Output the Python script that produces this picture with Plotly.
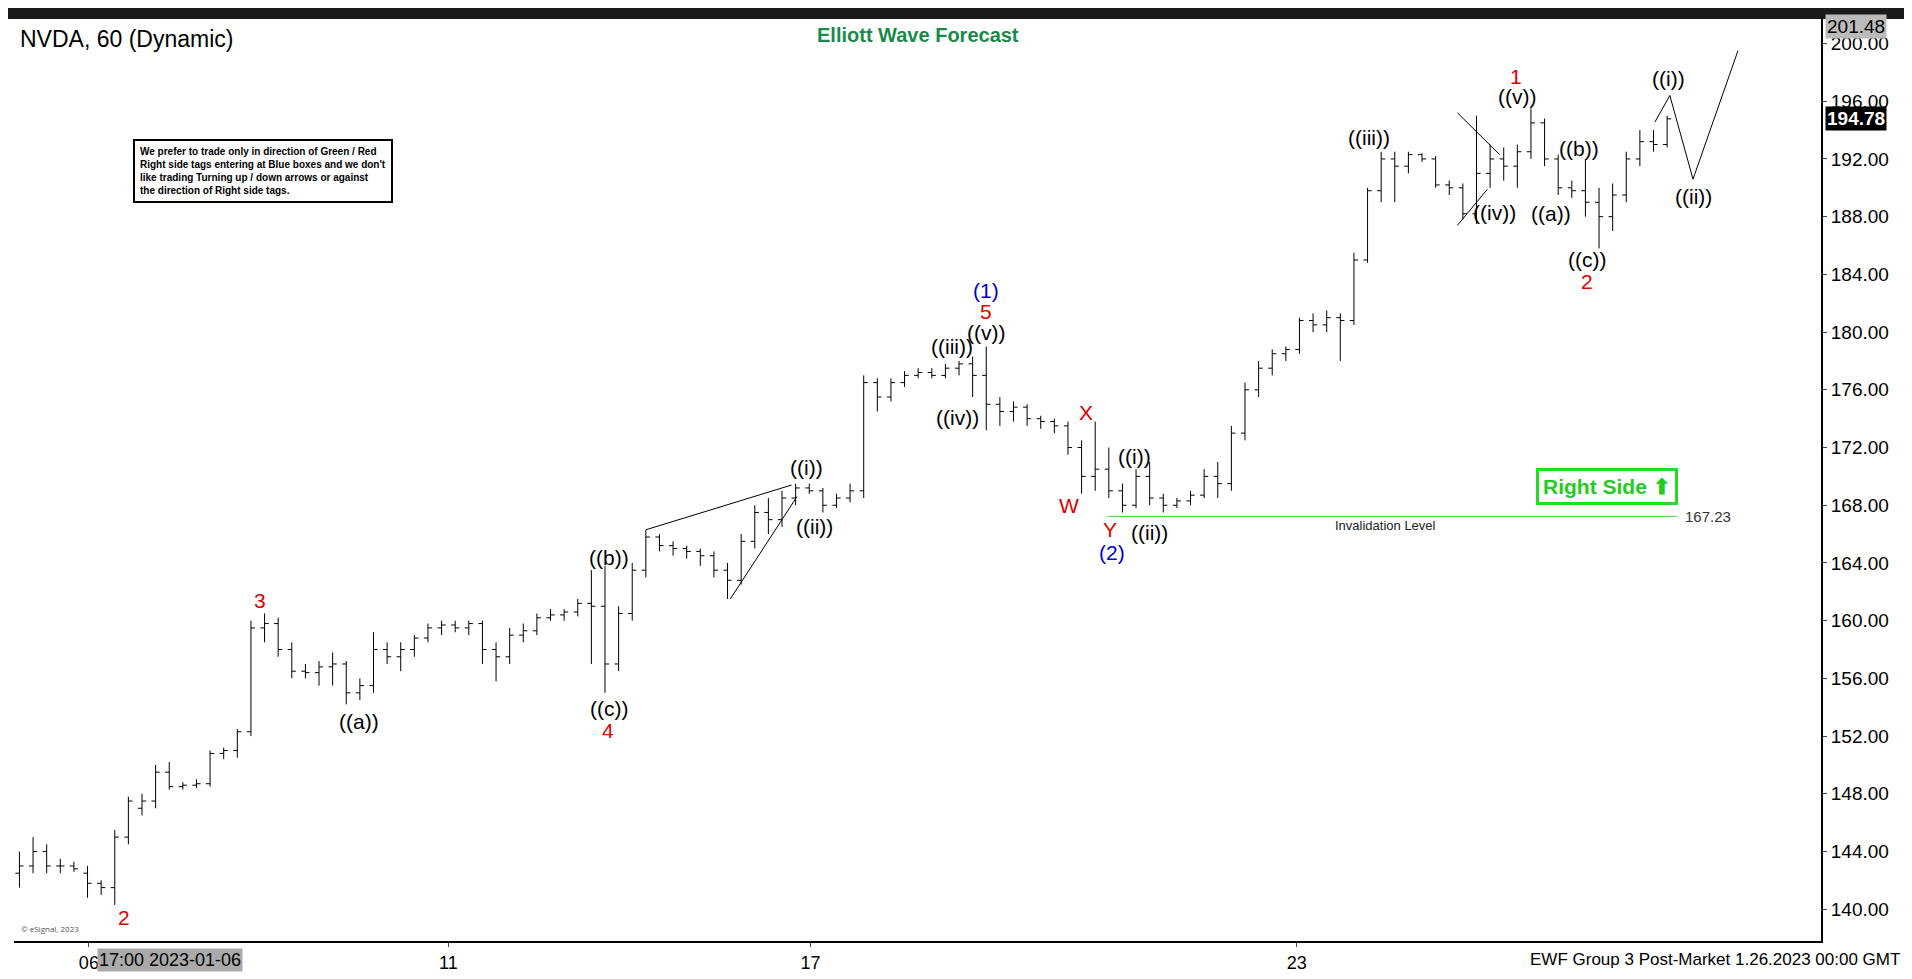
import plotly.graph_objects as go

opens = [142.5,143,144,143,143,142.5,141.8,141.5,145,147,147.5,149.5,148.5,148.6,148.7,150.8,151,152.3,159.5,159.8,
 158,156.5,156.4,156.8,157,155,155.5,158,157.5,158,158.8,159.5,159.7,159.5,159.8,158,157.5,159,159.3,160.2,
 160.4,160.6,161.2,161,157,160.5,163.5,165.8,165.2,165,164.8,164.5,163.5,162.8,165.5,167.5,167,168.5,169.2,169,
 168,168.5,169,176.5,175.5,176.5,177,177.2,177,177.5,177.8,177,175,174.5,174.8,174,173.8,173.5,172,170,
 170.5,169,168,170,168.5,168,168.3,168.7,170,169.5,173,176,177.5,178.5,178.8,180.8,180.5,181,180.8,185,
 189.8,192,191.5,192.3,192,190.2,190,188.2,191,192,191.5,192.5,194.5,192,190,189.8,189,188,189.5,192,193.2,193]
highs = [144,145,144.5,143.5,143.3,143,142,145.5,147.8,148,150,150.2,148.8,149,151,151.2,152.5,160,160.5,160.2,
 158.5,157,157.2,157.8,157.2,156,159.2,158.5,158.5,159,159.8,160,160,160,160,158.5,159.5,159.8,160.5,160.8,
 160.8,161.5,163.5,163.8,161,164,166.3,166,165.5,165.2,165,164.8,164,166,168,168.5,169,169.5,169.5,169.2,
 168.8,169.5,177,176.8,176.8,177.3,177.5,177.5,177.8,178,178.3,179,175.5,175.2,175,174.2,174,173.8,172.5,173.8,
 172,169.5,170.5,171,168.8,168.5,169,170.5,171,173.5,176.5,178,178.8,179,181,181.3,181.5,181.3,185.5,190,
 192.5,192.5,192.5,192.4,192.2,190.5,190.3,195,193,192.8,193,195.5,194.8,192.3,190.5,192,190,190.3,192.5,194,194,195]
lows = [141.5,142.5,142.5,142.5,142.6,140.8,141,140.3,144.5,146.5,147,148.3,148.3,148.4,148.5,150.4,150.5,152,158.5,157.5,
 156,156,155.5,155.5,154.2,154.5,155,157,156.5,157.5,158.5,159,159.2,159,157,155.8,157,158.5,159,160,
 160,160.3,157,155,156.5,160,163,164.8,164.5,164.3,163.8,163,161.5,162.5,165,166,166.5,168,168.8,167.5,
 167.8,168.2,168.5,174.5,175.2,176.2,176.8,176.8,176.8,177,175.5,173.2,173.5,173.8,173.5,173.3,173,171.5,168.8,169,
 168.5,167.5,167.8,168,167.5,167.8,168,168.5,168.5,169,172.5,175.5,177,178,178.5,180,180,178,180.5,184.8,
 189,189,191,191.8,190,189.5,187.8,187.5,190,190.5,190,192,191.5,189.5,189.3,188,185.8,187,189,191.5,192.5,192.8]
closes = [143,144,143,143,142.8,141.8,141.5,145,147.5,147.5,149.5,148.5,148.6,148.7,150.8,151,152.3,159.5,159.8,158,
 156.5,156.4,156.8,157,155,155.5,158,157.5,158,158.8,159.5,159.7,159.5,159.8,158,157.5,159,159.3,160.2,160.4,
 160.6,161.2,161,157,160.5,163.5,165.8,165.2,165,164.8,164.5,163.5,162.8,165.5,167.5,167,168.5,169.2,169,168,
 168.5,169,176.5,175.5,176.5,177,177.2,177,177.5,177.8,177,175,174.5,174.8,174,173.8,173.5,172,170,170.5,
 169,168,170,168.5,168,168.3,168.7,170,169.5,173,176,177.5,178.5,178.8,180.8,180.5,181,180.8,185,189.8,
 192,191.5,192.3,192,190.2,190,188.2,191,192,191.5,192.5,194.5,192,190,189.8,189,188,189.5,192,193.2,193,194.78]
bar_index = list(range(len(closes)))

tick_pos = [5.1, 31.5, 58.1, 93.8]
tick_text = ["06", "11", "17", "23"]
y_ticks = [140,144,148,152,156,160,164,168,172,176,180,184,188,192,196,200]

labels = [
 (7.7,139.4,"2","#e00000"),(17.7,161.4,"3","#e00000"),(24.9,153,"((a))","black"),
 (43.3,164.4,"((b))","black"),(43.3,153.9,"((c))","black"),(43.2,152.4,"4","#e00000"),
 (57.8,170.6,"((i))","black"),(58.4,166.5,"((ii))","black"),(68.5,179,"((iii))","black"),
 (68.9,174.1,"((iv))","black"),(71,180,"((v))","black"),(71,181.4,"5","#e00000"),
 (71,182.9,"(1)","#0000cc"),(78.3,174.4,"X","#e00000"),(77.1,168,"W","#e00000"),
 (80.1,166.3,"Y","#e00000"),(80.2,164.7,"(2)","#0000cc"),(81.9,171.4,"((i))","black"),
 (83,166.1,"((ii))","black"),(99.1,193.5,"((iii))","black"),(108.3,188.3,"((iv))","black"),
 (110,196.3,"((v))","black"),(109.9,197.7,"1","#e00000"),(112.5,188.2,"((a))","black"),
 (114.5,192.7,"((b))","black"),(115.1,185,"((c))","black"),(115.1,183.5,"2","#e00000"),
 (121.1,197.6,"((i))","black"),(122.9,189.4,"((ii))","black"),
]
invalidation = 167.23
proj_x = [120.1,121.2,122.9,126.2]
proj_y = [194.55,196.4,190.6,199.5]

F = "Liberation Sans"
fig = go.Figure()
fig.add_trace(go.Ohlc(x=bar_index, open=opens, high=highs, low=lows, close=closes,
    increasing_line_color="black", decreasing_line_color="black", line_width=1,
    tickwidth=0.3, showlegend=False, hoverinfo="skip"))
fig.add_trace(go.Scatter(x=proj_x, y=proj_y, mode="lines", line=dict(color="black", width=1), showlegend=False))
for xs, ys in [([46,56.7],[166.3,169.4]), ([52.2,57.1],[161.5,168.6]),
               ([105.6,108.7],[195.2,192.3]), ([105.6,107.8],[187.4,189.9])]:
    fig.add_trace(go.Scatter(x=xs, y=ys, mode="lines", line=dict(color="black", width=1), showlegend=False))
fig.add_trace(go.Scatter(x=[79.9,121.7], y=[invalidation]*2, mode="lines",
    line=dict(color="#33dd33", width=1), showlegend=False))

ann = []
for x, y, t, c in labels:
    ann.append(dict(x=x, y=y, text=t, showarrow=False, font=dict(size=21, color=c, family=F)))
ann += [
 dict(x=122.2, y=invalidation, text="167.23", xanchor="left", showarrow=False, font=dict(size=15, color="#333", family=F)),
 dict(x=100.3, y=166.6, text="Invalidation Level", showarrow=False, font=dict(size=13, color="#222", family=F)),
 dict(x=116.6, y=169.3, text="<b>Right Side ⬆</b>", showarrow=False, bgcolor="white",
      bordercolor="#22dd22", borderwidth=3, borderpad=4, font=dict(size=21, color="#22cc22", family=F)),
 dict(xref="paper", yref="paper", x=0.002, y=0.995, xanchor="left", yanchor="top", text="NVDA, 60 (Dynamic)",
      showarrow=False, font=dict(size=23, color="black", family=F)),
 dict(xref="paper", yref="paper", x=0.50, y=0.997, yanchor="top", text="<b>Elliott Wave Forecast</b>",
      showarrow=False, font=dict(size=20, color="#1a8a4a", family=F)),
 dict(xref="paper", yref="paper", x=0.066, y=0.87, xanchor="left", yanchor="top",
      text="<b>We prefer to trade only in direction of Green / Red<br>Right side tags entering at Blue boxes and we don't<br>like trading Turning up / down arrows or against<br>the direction of Right side tags.</b>",
      align="left", showarrow=False, bgcolor="white", bordercolor="black", borderwidth=2, borderpad=5,
      font=dict(size=10, color="black", family=F)),
 dict(xref="paper", x=1.002, y=201.2, xanchor="left", text="201.48", showarrow=False, bgcolor="#bbbbbb",
      font=dict(size=19, color="black", family=F)),
 dict(xref="paper", x=1.002, y=194.78, xanchor="left", text="<b>194.78</b>", showarrow=False, bgcolor="black",
      font=dict(size=19, color="white", family=F)),
 dict(xref="paper", yref="paper", x=1.045, y=-0.008, xanchor="right", yanchor="top",
      text="EWF Group 3 Post-Market 1.26.2023 00:00 GMT", showarrow=False,
      font=dict(size=17, color="black", family=F)),
 dict(xref="paper", yref="paper", x=0.046, y=-0.008, xanchor="left", yanchor="top",
      text="17:00 2023-01-06", showarrow=False, bgcolor="#aaaaaa",
      font=dict(size=18, color="black", family=F)),
 dict(xref="paper", yref="paper", x=0.003, y=0.005, xanchor="left", yanchor="bottom",
      text="© eSignal, 2023", showarrow=False, font=dict(size=8, color="#555")),
]

fig.update_layout(
    width=1912, height=979, paper_bgcolor="white", plot_bgcolor="white",
    margin=dict(l=6, r=99, t=11, b=46, autoexpand=False), annotations=ann,
    shapes=[dict(type="rect", xref="paper", yref="paper", x0=-0.01, x1=1.1, y0=1.0, y1=1.03,
                 fillcolor="#1a1a1a", line_width=0, layer="above")],
    xaxis=dict(range=[-0.4, 132.3], tickvals=tick_pos, ticktext=tick_text, showgrid=False,
               rangeslider=dict(visible=False), showline=True, linecolor="black", linewidth=2,
               ticks="outside", ticklen=4, tickfont=dict(size=18, family=F, color="black"), zeroline=False),
    yaxis=dict(range=[137.8, 201.7], side="right", tickvals=y_ticks,
               ticktext=[f"{v:.2f}" for v in y_ticks], showgrid=False, showline=True,
               linecolor="black", linewidth=2, ticks="outside", ticklen=4,
               tickfont=dict(size=19, family=F, color="black"), zeroline=False),
)
fig.write_html("out.html")
